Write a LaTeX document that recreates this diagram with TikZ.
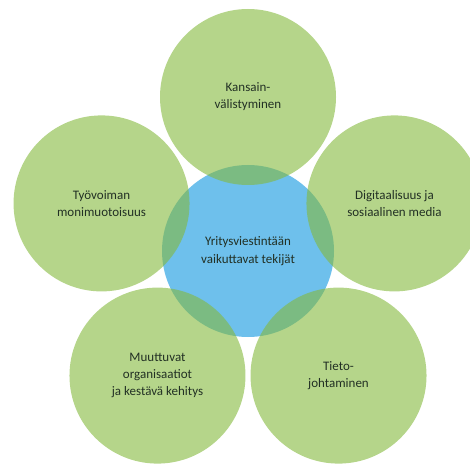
\documentclass[tikz,border=0pt]{standalone}
\usepackage{fontspec}
\setmainfont{Carlito}
\usepackage{xcolor}
\usetikzlibrary{calc}

\definecolor{teema}{RGB}{132,185,60}
\definecolor{ydin}{RGB}{110,192,236}
\definecolor{teksti}{RGB}{34,48,36}

\begin{document}
\begin{tikzpicture}[x=1pt,y=1pt,
	tekija/.style={circle, minimum size=176pt, inner sep=0pt,
		fill=teema, fill opacity=0.6, text opacity=1,
		align=center, text=teksti, font=\fontsize{13}{17}\selectfont},
	keskus/.style={circle, minimum size=172pt, inner sep=0pt,
		fill=ydin, align=center, text=teksti,
		font=\fontsize{13}{18}\selectfont}]
	%\draw[help lines] (0,0) grid (470,466);
	\useasboundingbox (0,0) rectangle (470,466);
	\clip (0,0) rectangle (470,466);

	\node[keskus] (ydin) at (248,215) {Yritysviestintään\\vaikuttavat tekijät};

	\node[tekija] (kv)   at ($(ydin)+(90:154)$)  {Kansain-\\välistyminen};
	\node[tekija] (tm)   at ($(ydin)+(162:154)$) {Työvoiman\\monimuotoisuus};
	\node[tekija] (mo)   at ($(ydin)+(234:154)$) {Muuttuvat\\organisaatiot\\ja kestävä kehitys};
	\node[tekija] (tj)   at ($(ydin)+(306:154)$) {Tieto-\\johtaminen};
	\node[tekija] (dig)  at ($(ydin)+(18:154)$)  {Digitaalisuus ja\\sosiaalinen media};
\end{tikzpicture}
\end{document}
